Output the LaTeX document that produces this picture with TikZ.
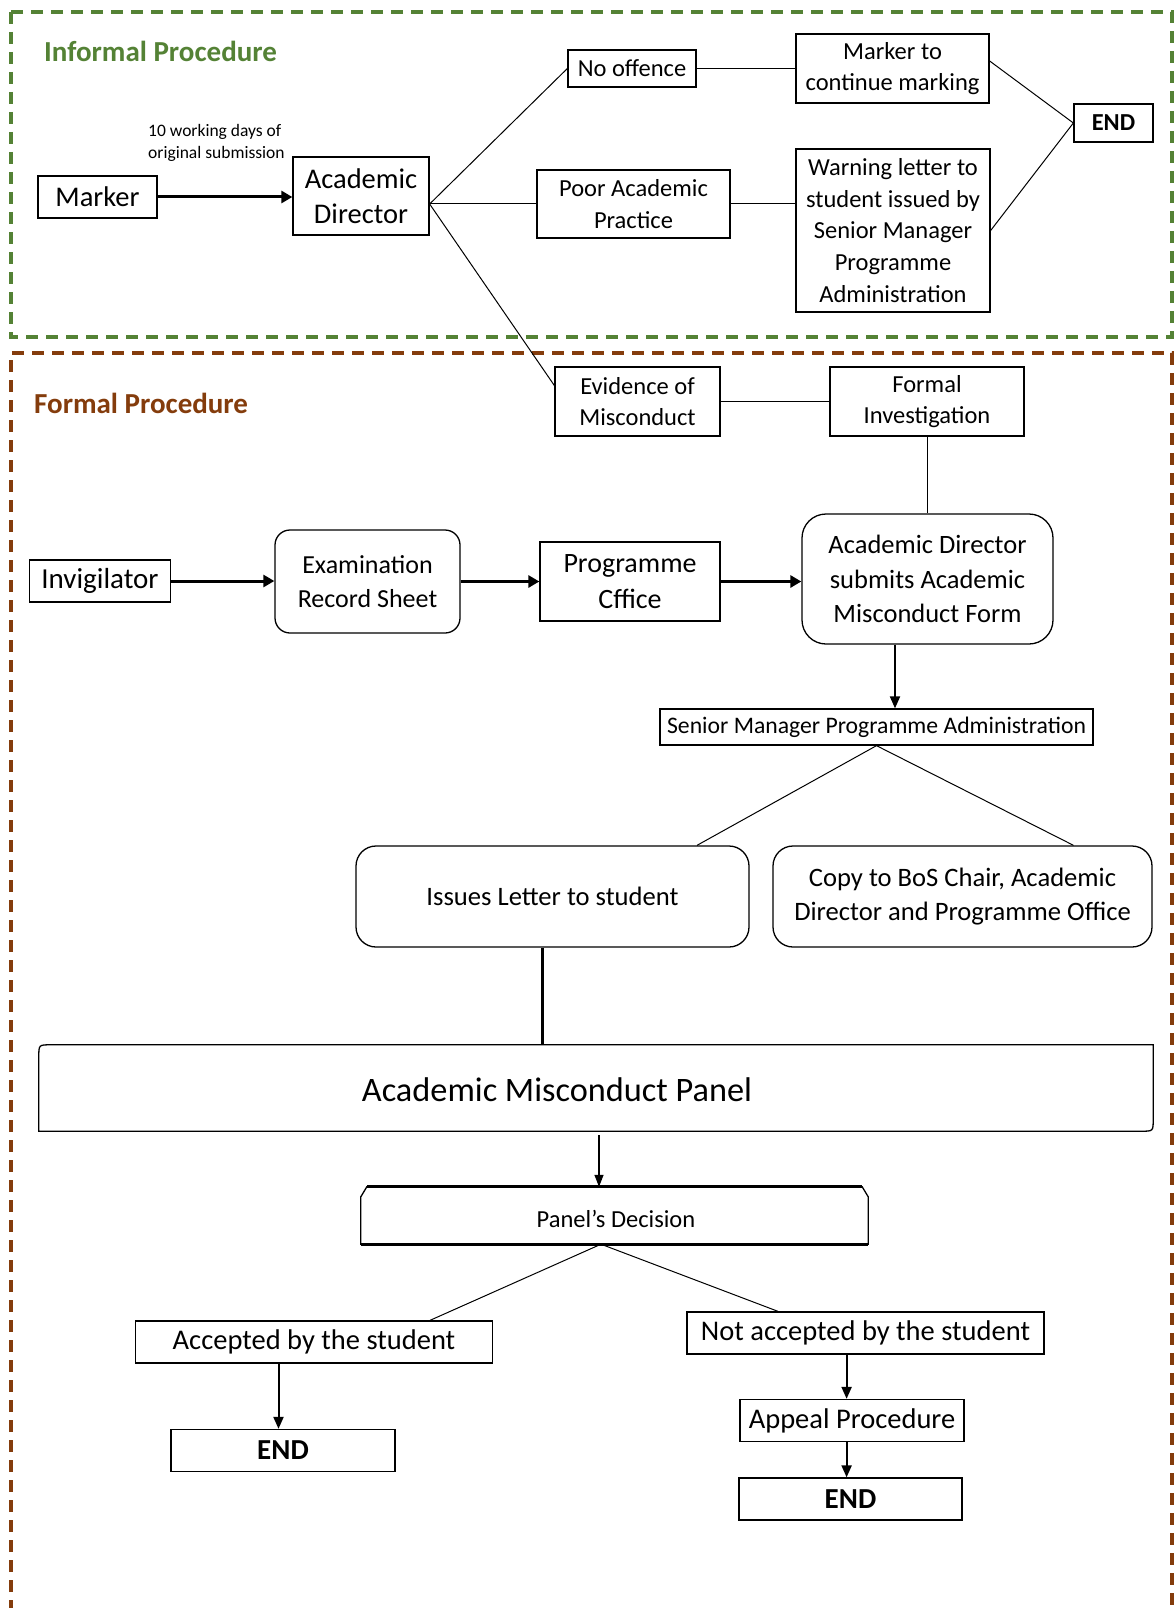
\documentclass[tikz,border=0pt]{standalone}
\usepackage{fontspec}
\setmainfont{Carlito}
\usetikzlibrary{arrows.meta,calc}
\definecolor{infgreen}{HTML}{548235}
\definecolor{formbrown}{HTML}{843C0C}
\newcommand{\myfs}[2]{\fontsize{#1}{#2}\selectfont}
\begin{document}
\begin{tikzpicture}[x=1pt,y=-1pt,
  box/.style={draw, line width=1.3pt, inner sep=2pt, align=center, text=black},
  rbox/.style={box, rounded corners=#1},
  sz/.style 2 args={minimum width=#1pt, minimum height=#2pt},
  conn/.style={line width=1pt},
  arr/.style={line width=3pt, -{Triangle[length=11pt,width=12pt]}},
  arrmid/.style={line width=2pt, -{Triangle[length=12pt,width=10pt]}},
  arrthin/.style={line width=1.3pt, -{Triangle[length=12pt,width=9pt]}},
  frame/.style={line width=3.2pt, dash pattern=on 12pt off 8pt},
  title/.style={font=\myfs{29}{35}\bfseries, inner sep=0pt, anchor=base west}
]
\useasboundingbox (0,0) rectangle (1174,1608);

% frames
\draw[frame, infgreen] (11,12) rectangle (1172,337);
\draw[frame, formbrown] (11,1612) -- (11,353) -- (1172,353) -- (1172,1612);
\node[title, text=infgreen] (tinf) at (44,62) {Informal Procedure};
\node[title, text=formbrown] (tform) at (34,413) {Formal Procedure};

% informal procedure
\node[box, sz={119}{42}, font=\myfs{28.5}{35}] (marker) at (97.5,197) {Marker};
\node[box, sz={136}{78}, font=\myfs{28.5}{35}] (ad) at (361,196) {Academic\\Director};
\node[align=left, anchor=west, inner sep=0pt, font=\myfs{17.5}{22}] (lbl) at (148,143) {10 working days of\\original submission};
\node[box, sz={128}{37}, font=\myfs{24.5}{31.7}] (noff) at (632,68.5) {No offence};
\node[box, sz={193}{69}, font=\myfs{24.5}{31.7}] (mcont) at (892.5,68.5) {Marker to\\continue marking};
\node[box, sz={79}{38}, font=\myfs{24.4}{30}\bfseries] (end1) at (1113.5,123) {END};
\node[box, sz={193}{68}, font=\myfs{24.5}{31.7}] (pap) at (633.5,204) {Poor Academic\\Practice};
\node[box, sz={194}{163}, font=\myfs{24.5}{31.7}] (warn) at (893,230.5) {Warning letter to\\student issued by\\Senior Manager\\Programme\\Administration};

\draw[arr] (marker.east) -- (marker.east -| ad.west);
\coordinate (adout) at (ad.east |- pap.west);
\draw[conn] (adout) -- (noff.west);
\draw[conn] (adout) -- (pap.west);
\draw[conn] (noff.east) -- (mcont.west);
\draw[conn] (pap.west -| pap.east) -- (pap.east -| warn.west);
\draw[conn] ([yshift=7.5pt]mcont.east) -- (end1.west);
\draw[conn] (warn.east) -- (end1.west);

% formal procedure
\node[box, sz={165}{69}, font=\myfs{24.5}{31.7}] (evid) at (637.5,401.5) {Evidence of\\Misconduct};
\node[box, sz={194}{69}, font=\myfs{24.5}{31.7}] (finv) at (927,401.5) {Formal\\Investigation};
\draw[conn] (adout) -- ([yshift=16pt]evid.west);
\draw[conn] (evid.east) -- (finv.west);

\node[box, sz={141.5}{42}, font=\myfs{29}{35}] (invig) at (100,581) {Invigilator};
\node[rbox=15pt, sz={185}{103}, font=\myfs{26}{33.3}] (exam) at (367.5,581.5) {Examination\\Record Sheet};
\node[box, sz={180}{79}, font=\myfs{28}{36}] (poff) at (630,581.5) {Programme\\Cffice};
\node[rbox=24pt, sz={251}{130}, font=\myfs{26.5}{34.7}] (ads) at (927.5,579) {Academic Director\\submits Academic\\Misconduct Form};
\draw[conn] (finv.south) -- (finv.south |- ads.north);
\draw[arr] (invig.east) -- (invig.east -| exam.west);
\draw[arr] (exam.east) -- (exam.east -| poff.west);
\draw[arr] (poff.east) -- (poff.east -| ads.west);

\node[box, sz={433}{36}, font=\myfs{23.7}{29}] (smpa) at (876.5,727) {Senior Manager Programme Administration};
\coordinate (adsb) at ([xshift=-32.5pt]ads.south);
\draw[arrmid] (adsb) -- (adsb |- smpa.north);

\node[rbox=20pt, sz={393}{101}, font=\myfs{26.6}{33.3}] (issue) at (552.5,896.5) {Issues Letter to student};
\node[rbox=20pt, sz={379}{101}, font=\myfs{26.6}{33.3}] (copy) at (962.5,896.5) {Copy to BoS Chair, Academic\\Director and Programme Office};
\draw[conn] (smpa.south) -- ([xshift=144.5pt]issue.north);
\draw[conn] (smpa.south) -- ([xshift=111pt]copy.north);

% panel
\node[sz={1114}{86}, inner sep=0pt] (panel) at (596,1088) {};
\draw[line width=1.3pt] (panel.south west) -- ($(panel.north west)+(0,12)$) .. controls (panel.north west) .. ($(panel.north west)+(12,0)$) -- (panel.north east) -- ($(panel.south east)+(0,-12)$) .. controls (panel.south east) .. ($(panel.south east)+(-12,0)$) -- cycle;
\node[font=\myfs{34.3}{40}] (paneltxt) at (557,1090) {Academic Misconduct Panel};
\coordinate (issb) at ([xshift=-10pt]issue.south);
\draw[line width=2.6pt] (issb) -- (issb |- panel.north);

% decision
\node[sz={507}{57}, inner sep=0pt] (dec) at (614.5,1215.5) {};
\node[font=\myfs{24.5}{30}] (dectxt) at (616,1219) {Panel’s Decision};
\draw[line width=1.3pt] (dec.south west) -- ($(dec.north west)+(0,10)$) -- ($(dec.north west)+(6,0)$) -- ($(dec.north east)+(-6,0)$) -- ($(dec.north east)+(0,10)$) -- (dec.south east) -- cycle;
\draw[line width=3pt] ($(dec.north west)+(6,0)$) -- ($(dec.north east)+(-6,0)$);
\draw[line width=3pt] (dec.south west) -- (dec.south east);
\coordinate (panb) at ([xshift=3pt]panel.south);
\draw[arrthin] ([yshift=-4pt]panb) -- (panb |- dec.north);

\node[box, sz={357}{42}, font=\myfs{28.5}{34}] (acc) at (314,1342) {Accepted by the student};
\node[box, sz={357}{42}, font=\myfs{28.5}{34}] (nacc) at (865.5,1333) {Not accepted by the student};
\coordinate (decb) at ([xshift=-13.5pt]dec.south);
\draw[conn] (decb) -- ([xshift=116pt]acc.north);
\draw[conn] (decb) -- ([xshift=-87.5pt]nacc.north);

\node[box, sz={224}{42}, font=\myfs{29}{34}\bfseries] (endL) at (283,1450.5) {END};
\node[box, sz={224}{42}, font=\myfs{28.5}{34}] (appeal) at (852,1420.5) {Appeal Procedure};
\node[box, sz={223}{42}, font=\myfs{29}{34}\bfseries] (endR) at (850.5,1499) {END};

\coordinate (accb) at ([xshift=-35.5pt]acc.south);
\draw[arrmid] (accb) -- (accb |- endL.north);
\coordinate (naccb) at ([xshift=-18.9pt]nacc.south);
\draw[arrmid] (naccb) -- (naccb |- appeal.north);
\coordinate (appb) at ([xshift=-5.4pt]appeal.south);
\draw[arrmid] (appb) -- (appb |- endR.north);
\end{tikzpicture}
\end{document}
